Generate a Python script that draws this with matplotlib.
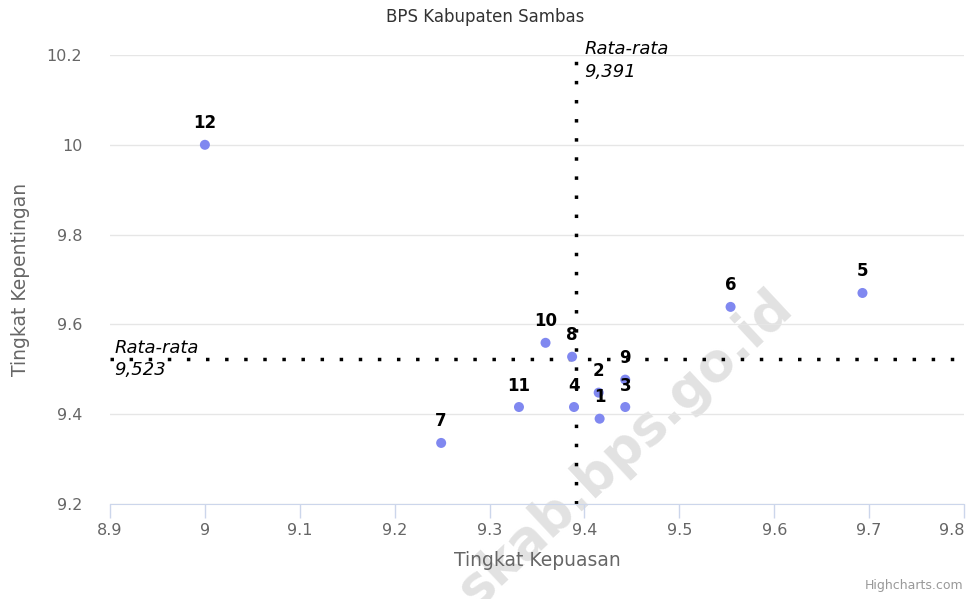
import matplotlib.pyplot as plt
import numpy as np

# data (Tingkat Kepuasan vs Tingkat Kepentingan)
labels = ['1', '2', '3', '4', '5', '6', '7', '8', '9', '10', '11', '12']
kepuasan = [9.416, 9.415, 9.443, 9.389, 9.693, 9.554, 9.249, 9.387, 9.443, 9.359, 9.331, 9.000]
kepentingan = [9.390, 9.448, 9.416, 9.416, 9.670, 9.639, 9.336, 9.528, 9.477, 9.559, 9.416, 10.000]
rata_x = 9.391
rata_y = 9.523
xticks = [8.9, 9.0, 9.1, 9.2, 9.3, 9.4, 9.5, 9.6, 9.7, 9.8]
xticklabels = ['8.9', '9', '9.1', '9.2', '9.3', '9.4', '9.5', '9.6', '9.7', '9.8']
yticks = [9.2, 9.4, 9.6, 9.8, 10.0, 10.2]
yticklabels = ['9.2', '9.4', '9.6', '9.8', '10', '10.2']

plt.rcParams['font.family'] = ['DejaVu Sans']

W, H = 970, 599
fig = plt.figure(figsize=(W/100, H/100), dpi=100)
ax = fig.add_axes([110/W, 1-504/H, (964-110)/W, (504-55)/H])

ax.set_xlim(8.9, 9.8)
ax.set_ylim(9.2, 10.2)
ax.set_xticks(xticks)
ax.set_xticklabels(xticklabels)
ax.set_yticks(yticks)
ax.set_yticklabels(yticklabels)
ax.get_xticklabels()[-1].set_ha('right')  # keep last label inside like highcharts
ax.grid(axis='y', color='#e6e6e6', lw=1)
ax.set_axisbelow(True)
for s in ['top', 'right', 'left']:
    ax.spines[s].set_visible(False)
ax.spines['bottom'].set_color('#ccd6eb')
ax.tick_params(axis='x', colors='#ccd6eb', length=10, width=1, labelcolor='#666666', labelsize=11.5, pad=4)
ax.tick_params(axis='y', length=0, labelcolor='#666666', labelsize=11.5, pad=20)

# watermark (under everything else)
ax.text(625/W, 1-448/H, 'skab.bps.go.id', rotation=43, fontsize=38, fontweight='bold',
        color='#e2e2e2', ha='center', va='center', transform=fig.transFigure,
        clip_on=False, zorder=0.2)

ax.axvline(rata_x, color='black', ls=(0, (1, 4.5)), lw=2.5, zorder=2, clip_on=False)
ax.axhline(rata_y, color='black', ls=(0, (1, 4.5)), lw=2.5, zorder=2, clip_on=False)
ax.annotate('Rata-rata\n9,391', (rata_x, 10.2), xytext=(6, 10.5), textcoords='offset points',
            style='italic', fontsize=13, va='top', ha='left', linespacing=1.3)
ax.annotate('Rata-rata\n9,523', (8.9, rata_y), xytext=(3, 0), textcoords='offset points',
            style='italic', fontsize=13, va='center', ha='left', linespacing=1.3)

ax.scatter(kepuasan, kepentingan, s=52, color='#8088f0', zorder=3, edgecolors='none')
for lb, x, y in zip(labels, kepuasan, kepentingan):
    ax.annotate(lb, (x, y), xytext=(0, 9), textcoords='offset points', ha='center',
                va='bottom', fontsize=12, fontweight='bold', color='black', zorder=4)

ax.set_xlabel('Tingkat Kepuasan', fontsize=13.5, color='#666666', labelpad=9)
ax.set_ylabel('Tingkat Kepentingan', fontsize=13.5, color='#666666', labelpad=12)
fig.text(0.5, 1-17/H, 'BPS Kabupaten Sambas', ha='center', va='center', fontsize=12, color='#333333')
fig.text(963/W, 1-592/H, 'Highcharts.com', ha='right', va='bottom', fontsize=9, color='#999999')

fig.savefig('out.png', dpi=100)
